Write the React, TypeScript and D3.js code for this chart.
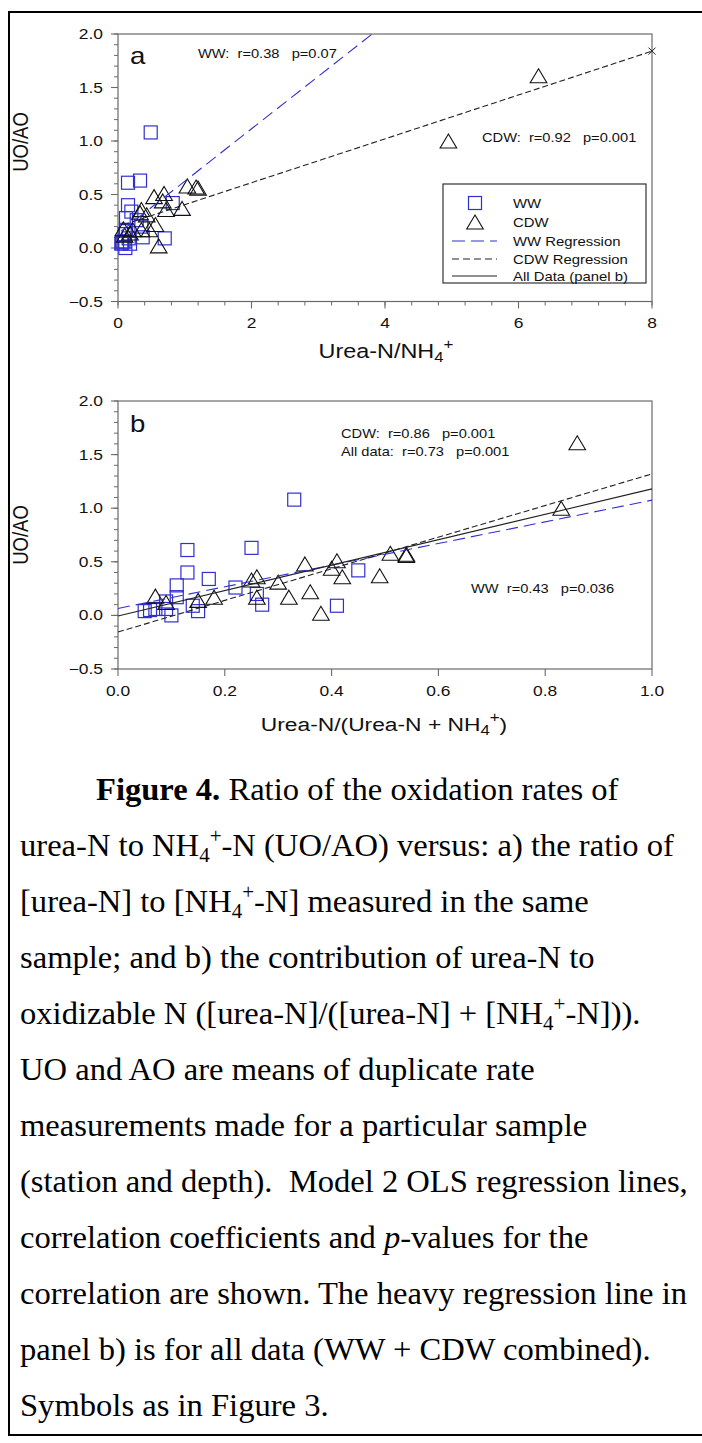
import * as d3 from 'd3';

// UO/AO against urea-N/NH4+ (panel a) and urea-N/(urea-N + NH4+) (panel b)
const wwUreaNH4 = [0.05, 0.06, 0.08, 0.1, 0.1, 0.11, 0.12, 0.12, 0.15, 0.15, 0.16, 0.18, 0.2, 0.28, 0.33, 0.35, 0.37, 0.49, 0.7, 0.82];
const wwUreaFrac = [0.05, 0.06, 0.07, 0.09, 0.09, 0.1, 0.11, 0.11, 0.13, 0.13, 0.14, 0.15, 0.17, 0.22, 0.25, 0.26, 0.27, 0.33, 0.41, 0.45];
const wwUoAo = [0.04, 0.05, 0.06, 0.06, 0.13, 0.0, 0.17, 0.28, 0.4, 0.61, 0.09, 0.04, 0.34, 0.26, 0.63, 0.2, 0.1, 1.08, 0.09, 0.42];

const cdwUreaNH4 = [0.08, 0.1, 0.18, 0.22, 0.33, 0.35, 0.35, 0.43, 0.47, 0.54, 0.56, 0.61, 0.67, 0.69, 0.72, 0.96, 1.04, 1.17, 1.2, 4.95, 6.3];
const cdwUreaFrac = [0.07, 0.09, 0.15, 0.18, 0.25, 0.26, 0.26, 0.3, 0.32, 0.35, 0.36, 0.38, 0.4, 0.41, 0.42, 0.49, 0.51, 0.54, 0.54, 0.83, 0.86];
const cdwUoAo = [0.18, 0.12, 0.14, 0.17, 0.33, 0.36, 0.17, 0.31, 0.17, 0.48, 0.22, 0.02, 0.44, 0.51, 0.36, 0.37, 0.58, 0.57, 0.56, 1.0, 1.61];

const yTicks = [-0.5, 0, 0.5, 1.0, 1.5, 2.0];
const xTicksA = [0, 2, 4, 6, 8];
const xTicksB = [0, 0.2, 0.4, 0.6, 0.8, 1.0];

// regression lines: [intercept, slope, x start, x end]
const wwFitA = [0.134, 0.49, 0.05, 3.81];
const cdwFitA = [0.2, 0.205, 0.08, 8];
const wwFitB = [0.065, 1.01, 0, 1];
const cdwFitB = [-0.155, 1.475, 0, 1];
const allFitB = [-0.005, 1.185, 0, 1];

const BLUE = '#3030d0';
const AXIS = '#6a6a6a';
const SANS = '"Liberation Sans", Arial, sans-serif';
const SERIF = '"Liberation Serif", "Times New Roman", serif';
const SX = 1.2; // chart text is a bit wide in the original

const L = 118, R = 652;

function T({ x, y, size, anchor = 'start', children, rotate = 0 }: any) {
  return (
    <text
      transform={`translate(${x},${y}) scale(${SX},1)${rotate ? ` rotate(${rotate})` : ''}`}
      fontSize={size}
      textAnchor={anchor}
      fontFamily={SANS}
      fill="#111"
      style={{ whiteSpace: 'pre' }}
    >
      {children}
    </text>
  );
}

function Square({ cx, cy }: any) {
  return <rect x={cx - 6.5} y={cy - 6.5} width={13} height={13} fill="none" stroke={BLUE} strokeWidth={1.2} />;
}

function Tri({ cx, cy }: any) {
  return (
    <path
      d={`M${cx},${cy - 7}L${cx + 8.3},${cy + 7}L${cx - 8.3},${cy + 7}Z`}
      fill="none"
      stroke="#111"
      strokeWidth={1.1}
    />
  );
}

function Fit({ fit, x, y, color, dash, width = 1.1 }: any) {
  const [b0, b1, x0, x1] = fit;
  const line = d3.line<number>().x(v => x(v)).y(v => y(b0 + b1 * v));
  return <path d={line([x0, x1]) || ''} fill="none" stroke={color} strokeWidth={width} strokeDasharray={dash} />;
}

function Axes({ x, y, top, bottom, xTicks, xMinor, fmt }: any) {
  const yMinor = d3.range(-0.5, 2.0001, 0.1);
  return (
    <g>
      <rect x={L} y={top} width={R - L} height={bottom - top} fill="none" stroke={AXIS} strokeWidth={1.2} />
      {yMinor.map((v: number, i: number) => (
        <line key={'ym' + i} x1={L - 4} x2={L} y1={y(v)} y2={y(v)} stroke={AXIS} strokeWidth={1} />
      ))}
      {yTicks.map(v => (
        <g key={'y' + v}>
          <line x1={L - 7} x2={L} y1={y(v)} y2={y(v)} stroke={AXIS} strokeWidth={1.1} />
          <T x={103} y={y(v) + 5} size={14.5} anchor="end">{d3.format('.1f')(v)}</T>
        </g>
      ))}
      {xMinor.map((v: number, i: number) => (
        <line key={'xm' + i} x1={x(v)} x2={x(v)} y1={bottom} y2={bottom + 4} stroke={AXIS} strokeWidth={1} />
      ))}
      {xTicks.map((v: number) => (
        <g key={'x' + v}>
          <line x1={x(v)} x2={x(v)} y1={bottom} y2={bottom + 7} stroke={AXIS} strokeWidth={1.1} />
          <T x={x(v)} y={bottom + 26.5} size={14.5} anchor="middle">{fmt(v)}</T>
        </g>
      ))}
    </g>
  );
}

function PanelA() {
  const top = 34, bottom = 301.5;
  const x = d3.scaleLinear().domain([0, 8]).range([L, R]);
  const y = d3.scaleLinear().domain([-0.5, 2.0]).range([bottom, top]);
  const legendRows = [203, 222, 241, 259, 276];
  return (
    <g>
      <defs>
        <clipPath id="clipA"><rect x={L} y={top} width={R - L} height={bottom - top} /></clipPath>
      </defs>
      <Axes x={x} y={y} top={top} bottom={bottom} xTicks={xTicksA} xMinor={d3.range(0, 8.001, 0.4)} fmt={d3.format('d')} />
      {wwUreaNH4.map((v, i) => <Square key={'w' + i} cx={x(v)} cy={y(wwUoAo[i])} />)}
      {cdwUreaNH4.map((v, i) => <Tri key={'c' + i} cx={x(v)} cy={y(cdwUoAo[i])} />)}
      <g clipPath="url(#clipA)">
        <Fit fit={wwFitA} x={x} y={y} color={BLUE} dash="12 6" />
      </g>
      <Fit fit={cdwFitA} x={x} y={y} color="#222" dash="6 3" />
      <path
        d={`M${x(8) - 3.5},${y(cdwFitA[0] + cdwFitA[1] * 8) - 3.5}l7,7m0,-7l-7,7`}
        stroke="#222"
        strokeWidth={1}
      />

      <T x={130} y={63.5} size={23}>a</T>
      <T x={198} y={57.5} size={12.2}>{'WW:  r=0.38   p=0.07'}</T>
      <T x={482} y={141.5} size={12.2}>{'CDW:  r=0.92   p=0.001'}</T>

      <rect x={443} y={184} width={203} height={99} fill="white" stroke="#333" strokeWidth={1.2} />
      <Square cx={475} cy={legendRows[0]} />
      <Tri cx={475} cy={legendRows[1]} />
      <line x1={452} x2={497} y1={legendRows[2]} y2={legendRows[2]} stroke={BLUE} strokeWidth={1.1} strokeDasharray="13 6" />
      <line x1={452} x2={497} y1={legendRows[3]} y2={legendRows[3]} stroke="#222" strokeWidth={1.1} strokeDasharray="7 4" />
      <line x1={452} x2={497} y1={legendRows[4]} y2={legendRows[4]} stroke="#222" strokeWidth={1.1} />
      {['WW', 'CDW', 'WW Regression', 'CDW Regression', 'All Data (panel b)'].map((s, i) => (
        <T key={s} x={513} y={legendRows[i] + 4.5} size={12.4}>{s}</T>
      ))}

      <T x={28} y={142} size={18.5} anchor="middle" rotate={-90}>UO/AO</T>
      <T x={386} y={358} size={19.5} anchor="middle">
        Urea-N/NH<tspan dy={4} fontSize={14}>4</tspan><tspan dy={-13} fontSize={14}>+</tspan>
      </T>
    </g>
  );
}

function PanelB() {
  const top = 401, bottom = 669;
  const x = d3.scaleLinear().domain([0, 1]).range([L, R]);
  const y = d3.scaleLinear().domain([-0.5, 2.0]).range([bottom, top]);
  return (
    <g>
      <Axes x={x} y={y} top={top} bottom={bottom} xTicks={xTicksB} xMinor={[]} fmt={d3.format('.1f')} />
      {wwUreaFrac.map((v, i) => <Square key={'w' + i} cx={x(v)} cy={y(wwUoAo[i])} />)}
      {cdwUreaFrac.map((v, i) => <Tri key={'c' + i} cx={x(v)} cy={y(cdwUoAo[i])} />)}
      <Fit fit={wwFitB} x={x} y={y} color={BLUE} dash="12 6" />
      <Fit fit={cdwFitB} x={x} y={y} color="#222" dash="6 3" />
      <Fit fit={allFitB} x={x} y={y} color="#222" />

      <T x={130} y={432} size={23}>b</T>
      <T x={341} y={438} size={12.2}>{'CDW:  r=0.86   p=0.001'}</T>
      <T x={341} y={456} size={12.2}>{'All data:  r=0.73   p=0.001'}</T>
      <T x={471} y={593} size={12.2}>{'WW  r=0.43   p=0.036'}</T>

      <T x={28} y={535} size={18.5} anchor="middle" rotate={-90}>UO/AO</T>
      <T x={384} y={731} size={19} anchor="middle">
        Urea-N/(Urea-N + NH<tspan dy={4} fontSize={14}>4</tspan><tspan dy={-13} fontSize={14}>+</tspan><tspan dy={9}>)</tspan>
      </T>
    </g>
  );
}

function NH4() {
  return (
    <>
      NH<tspan dy={6} fontSize={21}>4</tspan><tspan dy={-19} fontSize={21}>+</tspan><tspan dy={13}>-N</tspan>
    </>
  );
}

function Caption() {
  const x0 = 20, base = 800, lh = 56;
  const lines = [
    <><tspan x={96} fontWeight="bold">Figure 4.</tspan> Ratio of the oxidation rates of</>,
    <>urea-N to <NH4 /> (UO/AO) versus: a) the ratio of</>,
    <>[urea-N] to [<NH4 />] measured in the same</>,
    <>sample; and b) the contribution of urea-N to</>,
    <>oxidizable N ([urea-N]/([urea-N] + [<NH4 />])).</>,
    <>UO and AO are means of duplicate rate</>,
    <>measurements made for a particular sample</>,
    <>{'(station and depth).  Model 2 OLS regression lines,'}</>,
    <>correlation coefficients and <tspan fontStyle="italic">p</tspan>-values for the</>,
    <>correlation are shown. The heavy regression line in</>,
    <>panel b) is for all data (WW + CDW combined).</>,
    <>Symbols as in Figure 3.</>,
  ];
  return (
    <g fontFamily={SERIF} fontSize={32.6} fill="#000">
      {lines.map((l, i) => (
        <text key={i} x={x0} y={base + i * lh} style={{ whiteSpace: 'pre' }}>{l}</text>
      ))}
    </g>
  );
}

export default function App() {
  return (
    <div style={{ position: 'absolute', left: 0, top: 0 }}>
      <svg width={702} height={1443} style={{ display: 'block', background: 'white' }}>
        <rect x={9} y={12} width={700} height={1423} fill="none" stroke="#000" strokeWidth={2} />
        <PanelA />
        <PanelB />
        <Caption />
      </svg>
    </div>
  );
}
